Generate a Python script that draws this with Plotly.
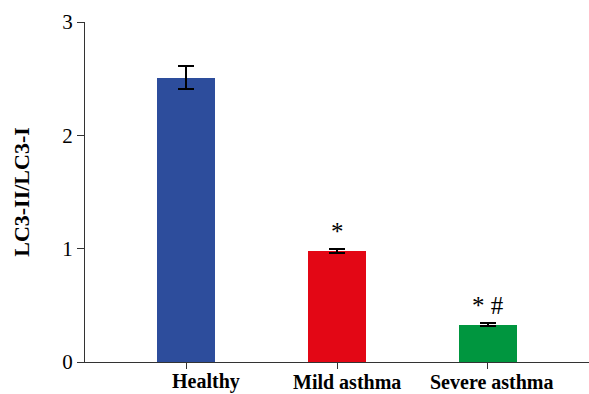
import plotly.graph_objects as go

groups = ["Healthy", "Mild asthma", "Severe asthma"]
ratio = [2.51, 0.98, 0.33]
ratio_err = [0.10, 0.018, 0.013]
marks = ["", "*", "* #"]
bar_colors = ["#2D4D9C", "#E30715", "#00963F"]

SERIF = "Liberation Serif, Times New Roman, serif"
pos = list(range(len(groups)))

fig = go.Figure()
fig.add_trace(go.Bar(
    x=pos, y=ratio, width=0.385,
    marker=dict(color=bar_colors, line=dict(width=0)),
    error_y=dict(type="data", array=ratio_err, visible=True,
                 color="black", thickness=1.5, width=8),
))

# significance markers above the error bars
for i, (v, e, m) in enumerate(zip(ratio, ratio_err, marks)):
    if m:
        fig.add_annotation(x=pos[i], y=v + e, text=m, showarrow=False,
                           yanchor="bottom", yshift=3, borderpad=0,
                           font=dict(family=SERIF, size=25, color="black"))

# category labels sit slightly right of their ticks, along the bottom edge
label_shift = [20, 10, 4]
for i, g in enumerate(groups):
    fig.add_annotation(x=pos[i], y=-32 / 340, yref="paper", text=f"<b>{g}</b>",
                       showarrow=False, yanchor="bottom", borderpad=0,
                       xshift=label_shift[i],
                       font=dict(family=SERIF, size=20, color="black"))

fig.update_layout(
    width=589, height=394,
    margin=dict(l=85, r=0, t=22, b=32),
    plot_bgcolor="white", paper_bgcolor="white",
    showlegend=False,
    bargap=0,
)
fig.update_xaxes(
    range=[-0.669, 2.669], tickvals=pos, ticktext=["", "", ""],
    showline=True, linecolor="#333333", linewidth=1.2,
    ticks="outside", ticklen=6, tickcolor="#333333", tickwidth=1.2,
    showgrid=False, zeroline=False,
)
fig.update_yaxes(
    range=[0, 3], tickvals=[0, 1, 2, 3],
    showline=True, linecolor="#333333", linewidth=1.2,
    ticks="outside", ticklen=7, tickcolor="#333333", tickwidth=1.2,
    showgrid=False, zeroline=False,
    tickfont=dict(family=SERIF, size=21, color="black"),
    title=dict(text="<b>LC3-II/LC3-I</b>", standoff=26,
               font=dict(family=SERIF, size=22, color="black")),
)

fig.write_html("out.html")
